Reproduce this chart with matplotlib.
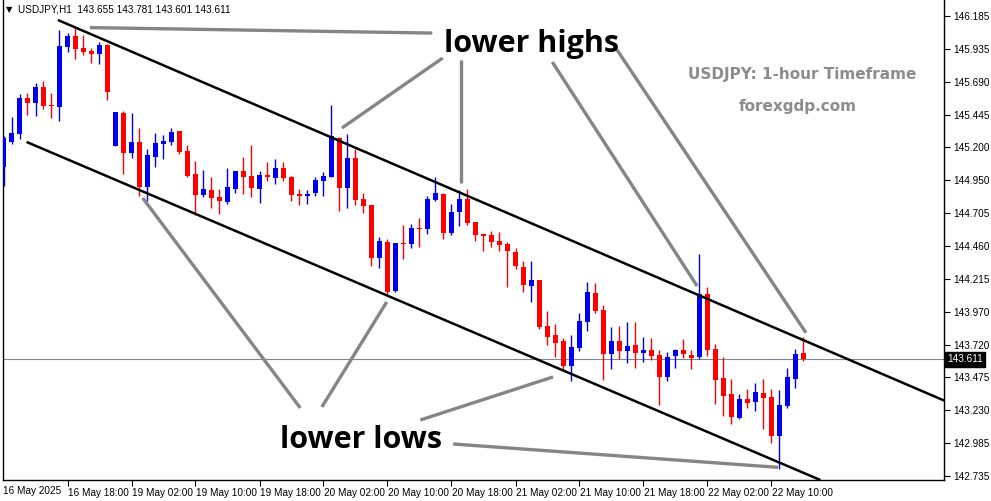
import matplotlib
matplotlib.use("Agg")
import matplotlib.pyplot as plt
import numpy as np
import matplotlib.transforms as mtrans
from matplotlib.transforms import blended_transform_factory

# ---------------- data (USDJPY H1, candle 0 = 16 May 10:00) ----------------
opens = [145.053, 145.240, 145.300, 145.570, 145.533, 145.653, 145.518, 145.503, 145.953, 146.035,
         145.945, 145.923, 145.900, 145.968, 145.210, 145.458, 145.158, 145.240, 144.903, 145.128,
         145.225, 145.240, 145.323, 145.173, 145.000, 144.843, 144.880, 144.828, 144.790, 144.888,
         145.023, 144.985, 144.888, 144.993, 144.970, 145.045, 144.978, 144.850, 144.835, 144.858,
         144.948, 144.978, 145.270, 144.895, 145.120, 144.813, 144.768, 144.370, 144.490, 144.123,
         144.483, 144.475, 144.595, 144.588, 144.805, 144.850, 144.558, 144.715, 144.813, 144.640,
         144.550, 144.543, 144.498, 144.475, 144.415, 144.303, 144.160, 144.205, 143.860, 143.793,
         143.748, 143.560, 143.695, 143.890, 144.108, 143.980, 143.650, 143.748, 143.673, 143.718,
         143.658, 143.680, 143.643, 143.478, 143.635, 143.680, 143.643, 143.628, 144.100, 143.688,
         143.470, 143.350, 143.170, 143.313, 143.290, 143.358, 143.328, 143.035, 143.260, 143.463,
         143.655]
highs = [145.285, 145.428, 145.600, 145.608, 145.683, 145.698, 145.608, 146.080, 146.058, 146.103,
         146.043, 145.945, 145.990, 145.975, 145.465, 145.473, 145.458, 145.345, 145.188, 145.308,
         145.293, 145.345, 145.323, 145.218, 145.098, 145.030, 144.978, 144.888, 145.045, 145.023,
         145.128, 145.218, 145.023, 145.090, 145.113, 145.090, 144.985, 144.888, 144.880, 144.978,
         145.015, 145.518, 145.280, 145.300, 145.188, 144.858, 144.770, 144.528, 144.513, 144.483,
         144.618, 144.625, 144.670, 144.835, 144.978, 144.858, 144.775, 144.880, 144.888, 144.640,
         144.550, 144.573, 144.565, 144.490, 144.445, 144.348, 144.348, 144.205, 143.973, 143.875,
         143.770, 143.793, 143.958, 144.190, 144.183, 144.018, 143.853, 143.860, 143.890, 143.890,
         143.778, 143.770, 143.680, 143.665, 143.688, 143.763, 143.680, 144.400, 144.153, 143.725,
         143.628, 143.463, 143.350, 143.388, 143.433, 143.463, 143.388, 143.380, 143.545, 143.688,
         143.781]
lows = [144.910, 145.225, 145.263, 145.443, 145.435, 145.488, 145.420, 145.398, 145.915, 145.863,
        145.893, 145.833, 145.825, 145.555, 145.210, 145.000, 145.120, 144.835, 144.798, 145.053,
        145.113, 145.218, 145.150, 144.978, 144.693, 144.828, 144.745, 144.700, 144.775, 144.858,
        144.850, 144.828, 144.783, 144.948, 144.925, 144.948, 144.798, 144.768, 144.775, 144.835,
        144.835, 144.978, 144.723, 144.745, 144.768, 144.708, 144.310, 144.295, 144.100, 144.115,
        144.363, 144.445, 144.453, 144.550, 144.798, 144.513, 144.543, 144.610, 144.618, 144.498,
        144.423, 144.453, 144.423, 144.153, 144.288, 144.115, 144.040, 143.838, 143.718, 143.628,
        143.530, 143.448, 143.673, 143.823, 143.958, 143.455, 143.538, 143.613, 143.583, 143.545,
        143.590, 143.605, 143.268, 143.448, 143.545, 143.620, 143.538, 143.613, 143.635, 143.275,
        143.185, 143.125, 143.163, 143.245, 143.223, 143.088, 142.983, 142.788, 143.245, 143.395,
        143.601]
closes = [145.270, 145.308, 145.570, 145.533, 145.653, 145.510, 145.510, 145.960, 146.035, 145.938,
          145.915, 145.900, 145.968, 145.615, 145.465, 145.158, 145.240, 144.903, 145.143, 145.233,
          145.248, 145.315, 145.165, 144.985, 144.843, 144.888, 144.820, 144.798, 144.903, 145.023,
          144.978, 144.895, 144.993, 144.978, 145.045, 144.970, 144.843, 144.835, 144.850, 144.955,
          144.985, 145.285, 144.895, 145.120, 144.805, 144.760, 144.370, 144.498, 144.115, 144.483,
          144.475, 144.595, 144.588, 144.813, 144.858, 144.558, 144.715, 144.813, 144.633, 144.543,
          144.535, 144.490, 144.468, 144.423, 144.310, 144.168, 144.205, 143.853, 143.778, 143.733,
          143.560, 143.703, 143.898, 144.115, 143.973, 143.650, 143.748, 143.673, 143.710, 143.658,
          143.680, 143.635, 143.478, 143.628, 143.680, 143.650, 143.620, 144.100, 143.680, 143.455,
          143.335, 143.178, 143.313, 143.283, 143.365, 143.320, 143.035, 143.268, 143.478, 143.650,
          143.611]

time_tick_idx = [8, 16, 24, 32, 40, 48, 56, 64, 72, 80, 88, 96]
time_tick_labels = ["16 May 18:00", "19 May 02:00", "19 May 10:00", "19 May 18:00",
                    "20 May 02:00", "20 May 10:00", "20 May 18:00", "21 May 02:00",
                    "21 May 10:00", "21 May 18:00", "22 May 02:00", "22 May 10:00"]
first_date_label = "16 May 2025"

price_tick_labels = ["146.185", "145.935", "145.690", "145.445", "145.200", "144.950",
                     "144.705", "144.460", "144.215", "143.970", "143.720", "143.475",
                     "143.230", "142.985", "142.735"]
price_tick_top, price_tick_bottom = 146.185, 142.735
last_price = 143.611
header_text = "USDJPY,H1  143.655 143.781 143.601 143.611"

# channel lines (time index, price)
upper_channel = [(6.8, 146.155), (118.0, 143.29)]
lower_channel = [(2.9, 145.240), (102.1, 142.705)]

# grey pointer lines for annotations (time index, price)
pointer_lines = [
    [(10.8, 146.098), (53.6, 146.057)],
    [(54.9, 145.870), (42.3, 145.345)],
    [(57.2, 145.855), (57.2, 144.930)],
    [(68.6, 145.840), (86.7, 144.160)],
    [(76.7, 145.930), (100.3, 143.810)],
    [(37.1, 143.245), (17.4, 144.820)],
    [(39.8, 143.253), (47.9, 144.040)],
    [(52.1, 143.155), (68.7, 143.478)],
    [(56.2, 142.975), (96.8, 142.800)],
]

# ---------------- figure ----------------
W, H = 991, 501
fig = plt.figure(figsize=(W / 100, H / 100), dpi=100)
fig.patch.set_facecolor("white")

px_l, px_r, px_t, px_b = 3, 944, 0, 480
ax = fig.add_axes([px_l / W, 1 - px_b / H, (px_r - px_l) / W, (px_b - px_t) / H])
ax.set_facecolor("white")

n = len(opens)
x = np.arange(n)
o = np.array(opens); h = np.array(highs); l = np.array(lows); c = np.array(closes)
up = c > o
col = np.where(up, "#0000f0", "#ff0000")

ax.vlines(x, l, h, colors=col, linewidth=1.0, zorder=3)
body_bot = np.minimum(o, c)
body_h = np.maximum(np.abs(c - o), 0.0075)
ax.bar(x, body_h, bottom=body_bot, width=0.625, color=col, linewidth=0, zorder=4)

# current price line
ax.axhline(last_price, color="#778899", linewidth=0.8, zorder=2)

# channel lines
for line in (upper_channel, lower_channel):
    xs, ys = zip(*line)
    ax.plot(xs, ys, color="black", linewidth=1.8, zorder=5, solid_capstyle="butt")

# grey pointer lines
for line in pointer_lines:
    xs, ys = zip(*line)
    ax.plot(xs, ys, color="#858585", linewidth=2.4, zorder=6, solid_capstyle="butt")

# scale
ax.set_xlim((px_l - 3.5) / 8, (px_r - 3.5) / 8)
ax.set_ylim(146.305 - 0.0075 * px_b, 146.305 - 0.0075 * px_t)

for s in ("left", "right", "bottom"):
    ax.spines[s].set_color("black")
    ax.spines[s].set_linewidth(1.0)
ax.spines["top"].set_visible(False)

ax.yaxis.tick_right()
ax.set_yticks(np.linspace(price_tick_top, price_tick_bottom, len(price_tick_labels)))
ax.set_yticklabels(price_tick_labels)
ax.tick_params(axis="y", direction="out", length=4, width=0.8, pad=3,
               labelsize=7.2, colors="black")
ax.set_xticks(time_tick_idx)
ax.set_xticklabels(time_tick_labels, ha="left")
ax.tick_params(axis="x", direction="out", length=4, width=0.8, pad=2,
               labelsize=7.2, colors="black")
for lab in ax.get_xticklabels() + ax.get_yticklabels():
    lab.set_fontfamily("Liberation Sans")
offset = mtrans.ScaledTranslation(1 / 100, 0, fig.dpi_scale_trans)
for lab in ax.get_xticklabels():
    lab.set_transform(lab.get_transform() + offset)

fig.text(3 / W, 1 - 491 / H, first_date_label, fontsize=7.2, family="Liberation Sans",
         ha="left", va="center", color="black")

# last price box
trans = blended_transform_factory(ax.transAxes, ax.transData)
ax.text(1.0 + 3 / (px_r - px_l), last_price, "143.611", transform=trans, fontsize=7.2,
        family="Liberation Sans", color="white", ha="left", va="center",
        bbox=dict(boxstyle="square,pad=0.25", facecolor="black", edgecolor="black"),
        clip_on=False, zorder=10)

# header
fig.text(6 / W, 1 - 10 / H, "\u25BC", fontsize=6, family="DejaVu Sans", ha="left", va="center")
fig.text(18 / W, 1 - 10 / H, header_text, fontsize=7.2, family="Liberation Sans",
         ha="left", va="center", color="black")

# annotation texts
big_font = dict(fontsize=22, fontweight="bold", family="Open Sans", color="black")
fig.text(532 / W, 1 - 44 / H, "lower highs", ha="center", va="center", **big_font)
fig.text(361 / W, 1 - 440 / H, "lower lows", ha="center", va="center", **big_font)
fig.text(802 / W, 1 - 74 / H, "USDJPY: 1-hour Timeframe", fontsize=11, fontweight="bold",
         family="DejaVu Sans", color="#8c8c8c", ha="center", va="center")
fig.text(798 / W, 1 - 107 / H, "forexgdp.com", fontsize=11, fontweight="bold",
         family="DejaVu Sans", color="#8c8c8c", ha="center", va="center")

fig.savefig("out.png", dpi=100)
